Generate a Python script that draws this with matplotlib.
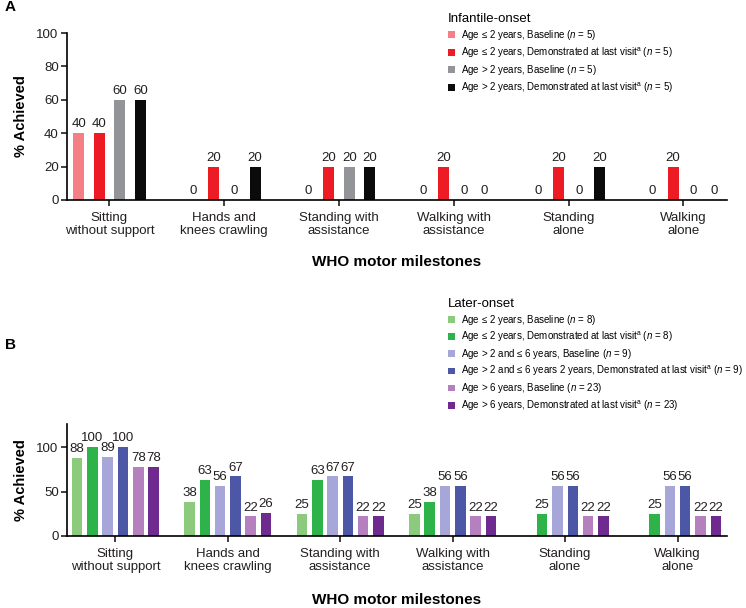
import numpy as np
import matplotlib
matplotlib.use("Agg")
import matplotlib.pyplot as plt

plt.rcParams['font.family'] = ['Liberation Sans', 'DejaVu Sans']
plt.rcParams['mathtext.fontset'] = 'custom'
plt.rcParams['mathtext.rm'] = 'Liberation Sans'
plt.rcParams['mathtext.it'] = 'Liberation Sans:italic'

milestones = ["Sitting\nwithout support", "Hands and\nknees crawling", "Standing with\nassistance",
              "Walking with\nassistance", "Standing\nalone", "Walking\nalone"]

# Panel A - infantile-onset
inf_le2_base = [40, 0, 0, 0, 0, 0]
inf_le2_last = [40, 20, 20, 20, 20, 20]
inf_gt2_base = [60, 0, 20, 0, 0, 0]
inf_gt2_last = [60, 20, 20, 0, 20, 0]
inf_labels = [
    r"Age ≤ 2 years, Baseline ($\it{n}$ = 5)",
    r"Age ≤ 2 years, Demonstrated at last visit$^{\mathregular{a}}$ ($\it{n}$ = 5)",
    r"Age > 2 years, Baseline ($\it{n}$ = 5)",
    r"Age > 2 years, Demonstrated at last visit$^{\mathregular{a}}$ ($\it{n}$ = 5)",
]
inf_colors = ["#F47F85", "#ED1C24", "#929497", "#0B0B0C"]

# Panel B - later-onset (nan = no bar shown)
lat_le2_base = [88, 38, 25, 25, np.nan, np.nan]
lat_le2_last = [100, 63, 63, 38, 25, 25]
lat_2to6_base = [89, 56, 67, 56, 56, 56]
lat_2to6_last = [100, 67, 67, 56, 56, 56]
lat_gt6_base = [78, 22, 22, 22, 22, 22]
lat_gt6_last = [78, 26, 22, 22, 22, 22]
lat_labels = [
    r"Age ≤ 2 years, Baseline ($\it{n}$ = 8)",
    r"Age ≤ 2 years, Demonstrated at last visit$^{\mathregular{a}}$ ($\it{n}$ = 8)",
    r"Age > 2 and ≤ 6 years, Baseline ($\it{n}$ = 9)",
    r"Age > 2 and ≤ 6 years 2 years, Demonstrated at last visit$^{\mathregular{a}}$ ($\it{n}$ = 9)",
    r"Age > 6 years, Baseline ($\it{n}$ = 23)",
    r"Age > 6 years, Demonstrated at last visit$^{\mathregular{a}}$ ($\it{n}$ = 23)",
]
lat_colors = ["#8CCB7E", "#2DB34A", "#A6A6D8", "#4C57A6", "#B481BE", "#6F2A90"]

W, H = 746, 608
fig = plt.figure(figsize=(W / 100, H / 100), dpi=100)


def px_axes(left, top, right, bottom):
    return fig.add_axes([left / W, 1 - bottom / H, (right - left) / W, (bottom - top) / H])


def style_axes(ax, ylim, yticks, xlabel_y):
    for s in ["top", "right"]:
        ax.spines[s].set_visible(False)
    for s in ["left", "bottom"]:
        ax.spines[s].set_linewidth(1.2)
    ax.set_ylim(*ylim)
    ax.set_yticks(yticks)
    ax.set_xticks(np.arange(len(milestones)))
    ax.set_xticklabels(milestones, fontsize=9.5, linespacing=1.15)
    ax.tick_params(axis='both', width=1.2, length=4.5, labelsize=9.5, colors='#231F20')
    ax.tick_params(axis='y', pad=1.5)
    ax.tick_params(axis='x', pad=4)
    ax.set_ylabel("% Achieved", fontsize=10.5, fontweight='bold')
    ax.yaxis.set_label_coords(-0.07, 0.5)
    ax.yaxis.label.set_va('center')
    ax.set_xlabel("WHO motor milestones", fontsize=11, fontweight='bold')
    ax.xaxis.set_label_coords(0.5, xlabel_y)
    ax.xaxis.label.set_va('center')


def grouped(ax, series, colors, labels, width, step):
    x = np.arange(len(milestones))
    n = len(series)
    handles = []
    for i, (vals, c, lab) in enumerate(zip(series, colors, labels)):
        vals = np.array(vals, dtype=float)
        ok = ~np.isnan(vals)
        off = (i - (n - 1) / 2) * step
        bc = ax.bar(x[ok] + off, vals[ok], width, color=c, label=lab)
        ax.bar_label(bc, labels=[f"{v:.0f}" for v in vals[ok]], padding=2, fontsize=9.5, color='#231F20')
        handles.append(bc)
    return handles


def add_legend(ax, title, top_px, spacing):
    return ax.legend(loc='upper left', bbox_to_anchor=(448 / W, 1 - top_px / H),
                     bbox_transform=fig.transFigure, frameon=False, fontsize=7,
                     title=title, title_fontsize=9.5, alignment='left',
                     handlelength=0.7, handleheight=0.7, handletextpad=0.6,
                     labelspacing=spacing, borderpad=0, borderaxespad=0)


# Panel A
axA = px_axes(67, 33, 727, 200)
grouped(axA, [inf_le2_base, inf_le2_last, inf_gt2_base, inf_gt2_last], inf_colors, inf_labels, 0.096, 0.179)
axA.set_xlim(-0.37, 5.38)
style_axes(axA, (0, 100), [0, 20, 40, 60, 80, 100], -0.37)
add_legend(axA, "Infantile-onset", 13, 0.33)

# Panel B
axB = px_axes(67, 424, 727, 536)
grouped(axB, [lat_le2_base, lat_le2_last, lat_2to6_base, lat_2to6_last, lat_gt6_base, lat_gt6_last],
        lat_colors, lat_labels, 0.093, 0.136)
axB.set_xlim(-0.43, 5.44)
style_axes(axB, (0, 126), [0, 50, 100], -0.57)
add_legend(axB, "Later-onset", 298, 0.3)

fig.text(5 / W, 1 - 7 / H, "A", fontsize=11, fontweight='bold', va='center', ha='left')
fig.text(5 / W, 1 - 345 / H, "B", fontsize=11, fontweight='bold', va='center', ha='left')

fig.savefig("out.png", dpi=100)
